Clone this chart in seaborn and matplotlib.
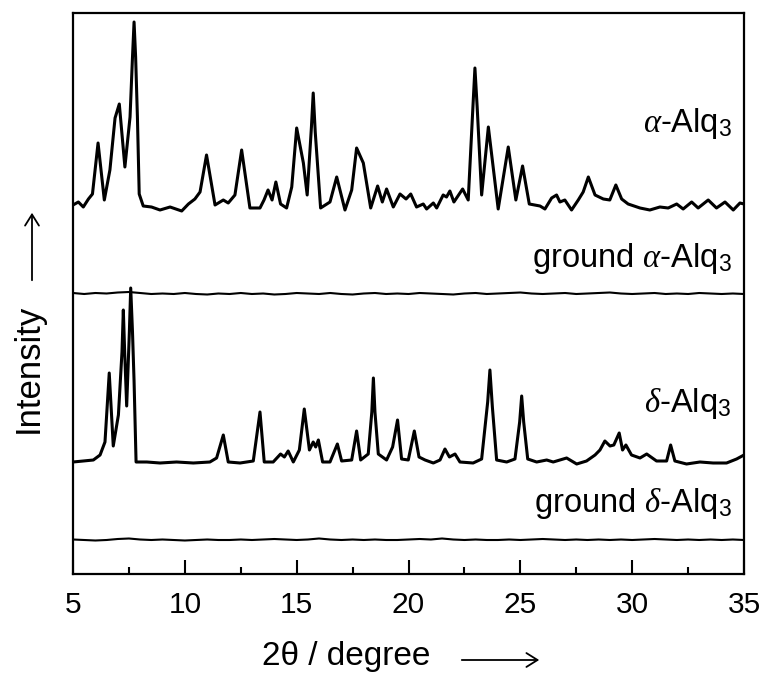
import numpy as np
import matplotlib
matplotlib.use("Agg")
import matplotlib.pyplot as plt
import seaborn as sns

# alpha-Alq3 pattern: 2theta and height above its baseline
alpha_x = [5.0, 5.24, 5.46, 5.69, 5.87, 6.12, 6.40, 6.65, 6.88, 7.07, 7.32, 7.55, 7.66, 7.73, 7.80, 7.88,
           7.96, 8.14, 8.51, 8.89, 9.34, 9.86, 10.16, 10.45, 10.68, 10.97, 11.35, 11.72, 11.94, 12.24,
           12.54, 12.91, 13.36, 13.54, 13.72, 13.90, 14.07, 14.28, 14.55, 14.78, 15.0, 15.30, 15.47,
           15.66, 15.74, 15.83, 16.07, 16.49, 16.79, 17.16, 17.46, 17.68, 17.98, 18.31, 18.62, 18.83,
           19.02, 19.32, 19.62, 19.89, 20.10, 20.36, 20.66, 20.81, 21.11, 21.26, 21.55, 21.70, 21.85,
           22.03, 22.42, 22.67, 22.88, 22.97, 23.07, 23.27, 23.57, 24.01, 24.46, 24.80, 25.10, 25.40,
           25.88, 26.10, 26.40, 26.62, 26.77, 26.99, 27.29, 27.59, 27.81, 28.04, 28.34, 28.71, 29.00,
           29.27, 29.53, 29.82, 30.35, 30.79, 31.24, 31.61, 31.99, 32.28, 32.66, 32.95, 33.40, 33.77,
           34.15, 34.52, 34.82, 35.0]
alpha_y = [2, 5, 0, 8, 13, 64, 7, 37, 89, 103, 40, 90, 150, 185, 150, 90,
           13, 1, 0, -3, 0, -4, 3, 8, 15, 52, 2, 7, 4, 12,
           57, -1, -1, 7, 17, 7, 25, 3, -1, 20, 79, 44, 12,
           80, 114, 75, -1, 5, 30, -3, 17, 59, 44, -1, 21, 5,
           18, 0, 13, 8, 13, 0, 3, -2, 4, -1, 12, 10, 16,
           5, 18, 7, 100, 139, 100, 12, 80, -2, 60, 7, 41, 3,
           1, -2, 9, 12, 5, 7, -3, 7, 15, 30, 12, 8, 7,
           22, 8, 3, -1, -3, 0, -1, 3, -2, 5, -1, 7, -1,
           5, -3, 4, 3]

# delta-Alq3 pattern
delta_x = [5.0, 5.46, 5.91, 6.21, 6.43, 6.62, 6.80, 7.03, 7.19, 7.25, 7.31, 7.40, 7.52, 7.58, 7.66,
           7.73, 7.82, 8.30, 8.89, 9.63, 10.38, 11.12, 11.42, 11.72, 11.94, 12.47, 13.06, 13.36, 13.55,
           13.95, 14.28, 14.45, 14.62, 14.85, 15.12, 15.34, 15.57, 15.74, 15.85, 15.97, 16.16, 16.49,
           16.82, 17.01, 17.46, 17.68, 17.86, 18.20, 18.36, 18.43, 18.50, 18.65, 19.02, 19.29, 19.51,
           19.69, 19.99, 20.26, 20.47, 20.74, 21.11, 21.41, 21.63, 21.83, 22.08, 22.30, 22.89, 23.27,
           23.54, 23.64, 23.75, 23.94, 24.39, 24.76, 24.97, 25.06, 25.15, 25.33, 25.73, 26.18, 26.47,
           27.07, 27.52, 27.96, 28.34, 28.56, 28.78, 29.01, 29.18, 29.42, 29.57, 29.72, 29.97, 30.35,
           30.65, 31.09, 31.54, 31.72, 31.91, 32.43, 33.03, 33.62, 34.22, 34.67, 35.0]
delta_y = [0, 1, 2, 7, 20, 89, 16, 47, 110, 152, 110, 56, 130, 174, 130,
           81, 0, 0, -1, 0, -1, 0, 4, 27, 0, -1, 1, 50, 0,
           0, 8, 5, 11, 0, 12, 53, 12, 20, 15, 22, 0, 0,
           18, 1, 2, 31, 2, 8, 50, 84, 50, 8, 2, 15, 42,
           3, 2, 31, 5, 2, -1, 2, 13, 5, 8, 0, -1, 3,
           60, 92, 55, 2, 0, 3, 40, 66, 40, 3, 0, 2, 0,
           4, -2, 1, 7, 12, 21, 16, 17, 29, 12, 17, 7, 4,
           8, 1, 1, 17, 1, -2, 0, -1, -1, 3, 7]

# ground (amorphous) samples: small wiggles on a 0.5 degree grid
ground_alpha_y = [1, 0, 1, 0.5, 1.5, 2, 1, 0, 0.5, 0, 1, 0, -0.5, 0.5, 0, 1, 0, 0.5, -0.5, 0,
                  1, 0.5, 0, 1, 0, -0.5, 0.5, 1, 0, 0.5, 0, 1, 0.5, 0, -0.5, 0.5, 1, 0, 0.5, 1,
                  1.5, 0.5, 0, 0.5, 1, 0, 0.5, 1, 1.5, 0.5, 0, 0.5, 1, 0, 0.5, 0, 1, 0.5, 0, 0.5, 0]
ground_delta_y = [0.5, 0, -0.5, 0, 1, 1.5, 0.5, 0, 0.5, 0, -0.5, 0, 0.5, 0, 0, 0.5, 0, 0.5, 1, 0.5,
                  0, 0.5, 1.5, 0.5, 0, 0.5, 0, 0.5, 0, 0, 0.5, 1, 0.5, 1.5, 0.5, 0, 0.5, 0, 0, 0.5,
                  0, 0.5, 1, 0.5, 0, 0.5, 0, 0.5, 0, 0.5, 0, 0.5, 1, 0.5, 0, 0.5, 0, 0.5, 0, 0.5, 0]
ground_x = np.linspace(5, 35, len(ground_alpha_y))

labels = [r"$\alpha$-Alq$_3$", r"ground $\alpha$-Alq$_3$", r"$\delta$-Alq$_3$", r"ground $\delta$-Alq$_3$"]

sns.set_style("ticks")
plt.rcParams["font.family"] = ["Liberation Sans", "DejaVu Sans"]
plt.rcParams["mathtext.fontset"] = "custom"
plt.rcParams["mathtext.rm"] = "Liberation Sans"
plt.rcParams["mathtext.it"] = "Liberation Serif:italic"
for key in ["text.color", "axes.labelcolor", "xtick.color", "ytick.color", "axes.edgecolor"]:
    plt.rcParams[key] = "black"

fig = plt.figure(figsize=(7.67, 6.79), dpi=100)
ax = fig.add_axes([73 / 767, 1 - 574 / 679, (744 - 73) / 767, (574 - 13) / 679])

# vertical offsets of the stacked traces
offsets = [367, 280, 112, 34]
traces = [(alpha_x, alpha_y, 2.2), (ground_x, ground_alpha_y, 1.5),
          (delta_x, delta_y, 2.2), (ground_x, ground_delta_y, 1.5)]
for (xs, ys, lw), off in zip(traces, offsets):
    sns.lineplot(x=np.asarray(xs), y=np.asarray(ys) + off, ax=ax, color="black",
                 linewidth=lw, estimator=None, sort=False)

label_y = [442, 307, 162, 62]
for txt, ly in zip(labels, label_y):
    ax.text(34.45, ly, txt, ha="right", va="baseline", fontsize=23.5)

ax.set_xlim(5, 35)
ax.set_ylim(0, 561)
ax.set_xticks([5, 10, 15, 20, 25, 30, 35])
ax.set_xticks([7.5, 12.5, 17.5, 22.5, 27.5, 32.5], minor=True)
ax.set_yticks([])
ax.tick_params(axis="x", which="major", direction="in", length=10, width=1.5,
               labelsize=21.5, pad=12)
ax.tick_params(axis="x", which="minor", direction="in", length=5, width=1.5)
for s in ax.spines.values():
    s.set_linewidth(1.6)
ax.set_xlabel("")
ax.set_ylabel("")

# axis titles with arrows
fig.text(262 / 767, 1 - 657 / 679, "2\u03b8 / degree", ha="left", va="center", fontsize=24)
fig.patches.append(matplotlib.patches.FancyArrowPatch(
    (459 / 767, 1 - 660 / 679), (542 / 767, 1 - 660 / 679), transform=fig.transFigure,
    arrowstyle="->,head_length=8,head_width=5", lw=1.3, color="black"))
fig.text(28 / 767, 1 - 368 / 679, "Intensity", rotation=90, ha="center", va="center", fontsize=25)
fig.patches.append(matplotlib.patches.FancyArrowPatch(
    (32 / 767, 1 - 283 / 679), (32 / 767, 1 - 210 / 679), transform=fig.transFigure,
    arrowstyle="->,head_length=8,head_width=5", lw=1.3, color="black"))

fig.savefig("out.png", dpi=100)
